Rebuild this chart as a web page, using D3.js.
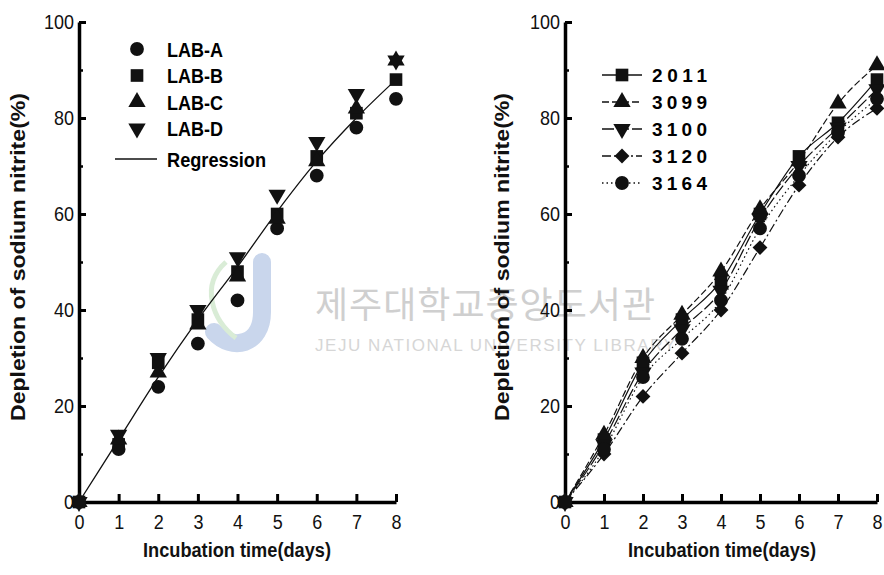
<!DOCTYPE html>
<html>
<head>
<meta charset="utf-8">
<script src="https://cdn.jsdelivr.net/npm/d3@7"></script>
<style>
  html, body { margin: 0; padding: 0; background: #fff; }
  svg { display: block; }
  .tick text { font-family: "Liberation Sans", sans-serif; font-size: 20px; fill: #111; }
  .title { font-family: "Liberation Sans", sans-serif; font-weight: 700; font-size: 20px; fill: #111; }
</style>
</head>
<body>
<div id="chart"></div>
<script>
(function () {
  'use strict';

  // --- Daten ---
  const DAYS = [0, 1, 2, 3, 4, 5, 6, 7, 8];
  const Y_TICKS = [0, 20, 40, 60, 80, 100];
  const Y_MINOR = [10, 30, 50, 70, 90];

  // linkes Diagramm: LAB-Stämme + Regression
  const LAB_A = [0, 11, 24, 33, 42, 57, 68, 78, 84];
  const LAB_B = [0, 12, 29, 38, 48, 60, 72, 81, 88];
  const LAB_C = [0, 13, 27, 37, 47, 59, 71, 82, 92];
  const LAB_D = [0, 14, 30, 40, 51, 64, 75, 85, 92];
  const REGRESSION = [0, 13, 26, 38, 49, 60.5, 71, 80, 88];

  // rechtes Diagramm: Isolate
  const S2011 = [0, 13, 29, 38, 46, 60, 72, 79, 88];
  const S3099 = [0, 14, 30, 39, 48, 61, 71, 83, 91];
  const S3100 = [0, 12, 27, 36, 44, 59, 70, 78, 86];
  const S3120 = [0, 10, 22, 31, 40, 53, 66, 76, 82];
  const S3164 = [0, 11, 26, 34, 42, 57, 68, 77, 84];

  const LEFT_SERIES = [
    { name: 'LAB-A', values: LAB_A, symbol: 'circle' },
    { name: 'LAB-B', values: LAB_B, symbol: 'square' },
    { name: 'LAB-C', values: LAB_C, symbol: 'triangle' },
    { name: 'LAB-D', values: LAB_D, symbol: 'down' },
  ];
  const RIGHT_SERIES = [
    { name: '2011', values: S2011, symbol: 'square',   dash: null },
    { name: '3099', values: S3099, symbol: 'triangle', dash: '7,3' },
    { name: '3100', values: S3100, symbol: 'down',     dash: '12,3' },
    { name: '3120', values: S3120, symbol: 'diamond',  dash: '9,3,2,3' },
    { name: '3164', values: S3164, symbol: 'circle',   dash: '1.5,3' },
  ];

  const W = 884, H = 575;
  const FONT = '"Liberation Sans", sans-serif';

  const svg = d3.select('#chart').append('svg')
    .attr('width', W).attr('height', H);

  // --- Wasserzeichen (Bibliotheksstempel) ---
  const wm = svg.append('g').attr('class', 'watermark');
  wm.append('path')
    .attr('d', 'M262,262 L262,312 C262,345 232,352 214,332')
    .attr('fill', 'none').attr('stroke', '#c9d6ec').attr('stroke-width', 18)
    .attr('stroke-linecap', 'round');
  wm.append('path')
    .attr('d', 'M226,262 C200,285 212,320 236,338')
    .attr('fill', 'none').attr('stroke', '#d9ecd6').attr('stroke-width', 5);
  wm.append('text')
    .attr('x', 315).attr('y', 318)
    .attr('textLength', 340)
    .attr('font-family', '"Noto Sans CJK KR", sans-serif')
    .attr('font-size', 36)
    .attr('fill', '#cfcfcf')
    .text('제주대학교중앙도서관');
  wm.append('text')
    .attr('x', 315).attr('y', 351)
    .attr('textLength', 360)
    .attr('font-family', FONT)
    .attr('font-size', 17)
    .attr('fill', '#d6d6d6')
    .text('JEJU NATIONAL UNIVERSITY LIBRARY');

  // --- Symbol-Helfer ---
  function symbolPath(type) {
    switch (type) {
      case 'circle':   return d3.symbol(d3.symbolCircle, 150)();
      case 'square':   return d3.symbol(d3.symbolSquare, 160)();
      case 'triangle': return d3.symbol(d3.symbolTriangle, 130)();
      case 'down':     return d3.symbol(d3.symbolTriangle, 130)();
      case 'diamond':  return d3.symbol(d3.symbolSquare, 110)();
    }
  }
  function symbolRotate(type) {
    if (type === 'down') return ' rotate(180)';
    if (type === 'diamond') return ' rotate(45)';
    return '';
  }

  // schmale Schrift nachahmen
  function narrow(sel, perChar) {
    sel.attr('textLength', d => String(d).length * perChar)
      .attr('lengthAdjust', 'spacingAndGlyphs');
  }

  // --- ein Diagramm-Panel ---
  function panel(x0, x8, titleX, xTitleX) {
    const x = d3.scaleLinear().domain([0, 8]).range([x0, x8]);
    const y = d3.scaleLinear().domain([0, 100]).range([502, 22]);
    const g = svg.append('g');

    // y-Achse: kleine Zwischenstriche
    g.append('g')
      .attr('transform', `translate(${x0},0)`)
      .call(d3.axisLeft(y).tickValues(Y_MINOR).tickSizeInner(-4).tickSizeOuter(0).tickFormat(''))
      .call(a => a.selectAll('line').attr('stroke-width', 2.5))
      .call(a => a.select('.domain').remove());

    g.append('g')
      .attr('transform', `translate(${x0},0)`)
      .call(d3.axisLeft(y).tickValues(Y_TICKS).tickSizeInner(-7).tickSizeOuter(0).tickPadding(5))
      .call(a => a.selectAll('line').attr('stroke-width', 3))
      .call(a => a.select('.domain').attr('stroke-width', 3.5))
      .call(a => narrow(a.selectAll('text'), 10));

    g.append('g')
      .attr('transform', 'translate(0,502)')
      .call(d3.axisBottom(x).tickValues(DAYS).tickSizeInner(-8).tickSizeOuter(0).tickPadding(13))
      .call(a => a.selectAll('line').attr('stroke-width', 3))
      .call(a => a.select('.domain').attr('stroke-width', 3.5))
      .call(a => narrow(a.selectAll('text'), 10));

    g.append('text')
      .attr('class', 'title')
      .attr('transform', `translate(${titleX},257) rotate(-90)`)
      .attr('text-anchor', 'middle')
      .attr('textLength', 328)
      .attr('lengthAdjust', 'spacingAndGlyphs')
      .text('Depletion of sodium nitrite(%)');

    g.append('text')
      .attr('class', 'title')
      .attr('x', xTitleX).attr('y', 557)
      .attr('text-anchor', 'middle')
      .attr('textLength', 188)
      .attr('lengthAdjust', 'spacingAndGlyphs')
      .text('Incubation time(days)');

    return { g, x, y };
  }

  // --- linkes Diagramm ---
  const L = panel(79, 396, 25, 237);

  L.g.append('path')
    .datum(REGRESSION)
    .attr('fill', 'none')
    .attr('stroke', '#111')
    .attr('stroke-width', 1.3)
    .attr('d', d3.line().x((d, i) => L.x(DAYS[i])).y(d => L.y(d)).curve(d3.curveMonotoneX));

  LEFT_SERIES.forEach(s => {
    L.g.append('g').selectAll('path')
      .data(s.values)
      .enter().append('path')
      .attr('d', symbolPath(s.symbol))
      .attr('transform', (d, i) => `translate(${L.x(DAYS[i])},${L.y(d)})${symbolRotate(s.symbol)}`)
      .attr('fill', '#111');
  });

  // Legende links
  const legL = L.g.append('g');
  LEFT_SERIES.forEach((s, i) => {
    const yy = 49 + i * 26.5;
    legL.append('path')
      .attr('d', symbolPath(s.symbol))
      .attr('transform', `translate(137,${yy})${symbolRotate(s.symbol)}`)
      .attr('fill', '#111');
    legL.append('text')
      .attr('x', 167).attr('y', yy + 7.5)
      .attr('font-family', FONT).attr('font-weight', 700).attr('font-size', 21)
      .attr('textLength', 56).attr('lengthAdjust', 'spacingAndGlyphs')
      .text(s.name);
  });
  legL.append('line')
    .attr('x1', 115).attr('x2', 157).attr('y1', 159).attr('y2', 159)
    .attr('stroke', '#111').attr('stroke-width', 1.3);
  legL.append('text')
    .attr('x', 167).attr('y', 166.5)
    .attr('font-family', FONT).attr('font-weight', 700).attr('font-size', 21)
    .attr('textLength', 99).attr('lengthAdjust', 'spacingAndGlyphs')
    .text('Regression');

  // --- rechtes Diagramm ---
  const R = panel(565, 877, 509, 722);

  RIGHT_SERIES.forEach(s => {
    R.g.append('path')
      .datum(s.values)
      .attr('fill', 'none')
      .attr('stroke', '#111')
      .attr('stroke-width', 1.2)
      .attr('stroke-dasharray', s.dash)
      .attr('d', d3.line().x((d, i) => R.x(DAYS[i])).y(d => R.y(d)).curve(d3.curveMonotoneX));
  });
  RIGHT_SERIES.forEach(s => {
    R.g.append('g').selectAll('path')
      .data(s.values)
      .enter().append('path')
      .attr('d', symbolPath(s.symbol))
      .attr('transform', (d, i) => `translate(${R.x(DAYS[i])},${R.y(d)})${symbolRotate(s.symbol)}`)
      .attr('fill', '#111');
  });

  // Legende rechts
  const legR = R.g.append('g');
  RIGHT_SERIES.forEach((s, i) => {
    const yy = 75 + i * 27;
    legR.append('line')
      .attr('x1', 602).attr('x2', 642).attr('y1', yy).attr('y2', yy)
      .attr('stroke', '#111').attr('stroke-width', 1.4)
      .attr('stroke-dasharray', s.dash);
    legR.append('path')
      .attr('d', symbolPath(s.symbol))
      .attr('transform', `translate(622,${yy})${symbolRotate(s.symbol)}`)
      .attr('fill', '#111');
    legR.append('text')
      .attr('x', 652).attr('y', yy + 7)
      .attr('font-family', FONT).attr('font-weight', 700).attr('font-size', 19)
      .attr('textLength', 55).attr('lengthAdjust', 'spacing')
      .text(s.name);
  });

})();
</script>
</body>
</html>
